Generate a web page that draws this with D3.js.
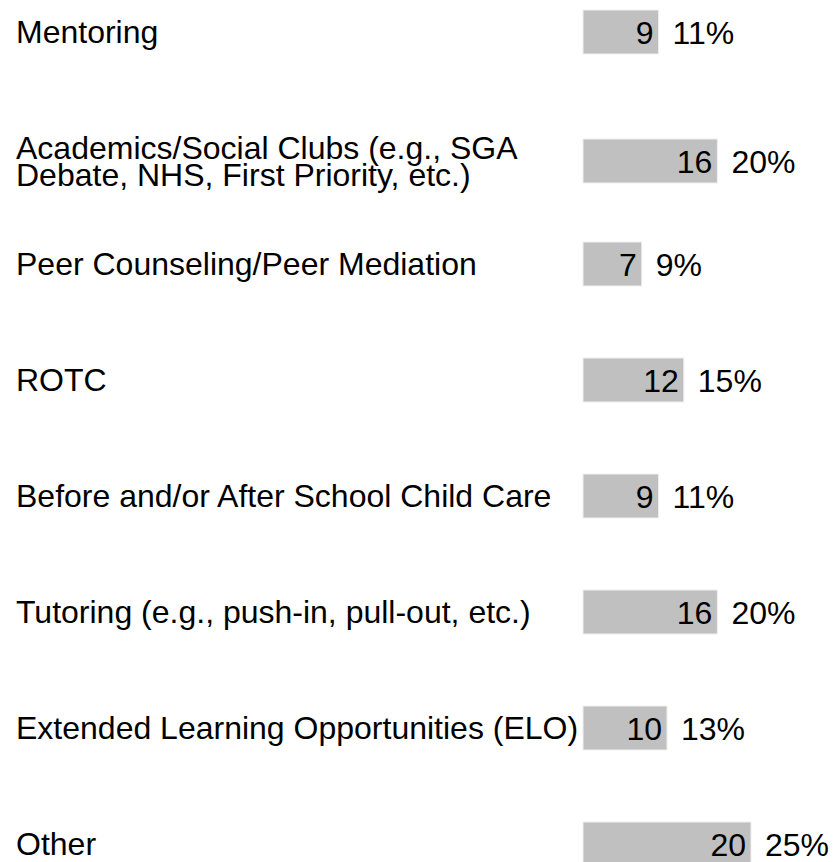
<!DOCTYPE html>
<html>
<head>
<meta charset="utf-8">
<script src="https://cdn.jsdelivr.net/npm/d3@7"></script>
<style>
  html, body { margin: 0; padding: 0; background: #fff; }
  #svg-container { width: 833px; height: 862px; }
  text { font-family: "Liberation Sans", Arial, sans-serif; fill: #000; }
</style>
</head>
<body>
<div id="svg-container"></div>
<script>
////////////////////////////  Data  ////////////////////////////////
const categories = [
  "Mentoring",
  "Academics/Social Clubs (e.g., SGA\nDebate, NHS, First Priority, etc.)",
  "Peer Counseling/Peer Mediation",
  "ROTC",
  "Before and/or After School Child Care",
  "Tutoring (e.g., push-in, pull-out, etc.)",
  "Extended Learning Opportunities (ELO)",
  "Other"
];
const counts = [9, 16, 7, 12, 9, 16, 10, 20];
const percentLabels = ["11%", "20%", "9%", "15%", "11%", "20%", "13%", "25%"];

////////////////////////////  Init  ////////////////////////////////
const width = 833;
const height = 862;
const margin = { top: 32, bottom: 18, labelLeft: 16, barLeft: 583 };
const fontSize = 32;
const lineHeight = 27;
const barHeight = 44;

const svg = d3.select("#svg-container").append("svg")
  .attr("width", width)
  .attr("height", height);

const data = categories.map((c, i) => ({
  label: c,
  lines: c.split("\n"),
  count: counts[i],
  pct: percentLabels[i]
}));

// scales
const yScale = d3.scalePoint()
  .domain(categories)
  .range([margin.top, height - margin.bottom]);

const xScale = d3.scaleLinear()
  .domain([0, 20])
  .range([0, 168]);

// two-line rows sit a little lower
const rowY = (d) => yScale(d.label) + (d.lines.length - 1) * 13;

const rows = svg.selectAll("g.row")
  .data(data)
  .enter()
  .append("g")
  .attr("class", "row")
  .attr("transform", (d) => `translate(0,${rowY(d)})`);

// category labels
rows.append("text")
  .attr("x", margin.labelLeft)
  .attr("font-size", fontSize)
  .each(function (d) {
    const start = -((d.lines.length - 1) * lineHeight) / 2;
    d3.select(this).selectAll("tspan")
      .data(d.lines)
      .enter()
      .append("tspan")
      .attr("x", margin.labelLeft)
      .attr("y", (l, i) => start + i * lineHeight)
      .attr("dy", "0.35em")
      .text((l) => l);
  });

// bars
rows.append("rect")
  .attr("x", margin.barLeft)
  .attr("y", -barHeight / 2)
  .attr("width", (d) => xScale(d.count))
  .attr("height", barHeight)
  .attr("fill", "#c0c0c0")
  .attr("stroke", "#f0f0f0")
  .attr("stroke-width", 1);

// counts inside bar
rows.append("text")
  .attr("x", (d) => margin.barLeft + xScale(d.count) - 5)
  .attr("y", 1)
  .attr("dy", "0.35em")
  .attr("text-anchor", "end")
  .attr("font-size", fontSize)
  .text((d) => d.count);

// percentages after bar
rows.append("text")
  .attr("x", (d) => margin.barLeft + xScale(d.count) + 14)
  .attr("y", 1)
  .attr("dy", "0.35em")
  .attr("font-size", fontSize)
  .text((d) => d.pct);
</script>
</body>
</html>
